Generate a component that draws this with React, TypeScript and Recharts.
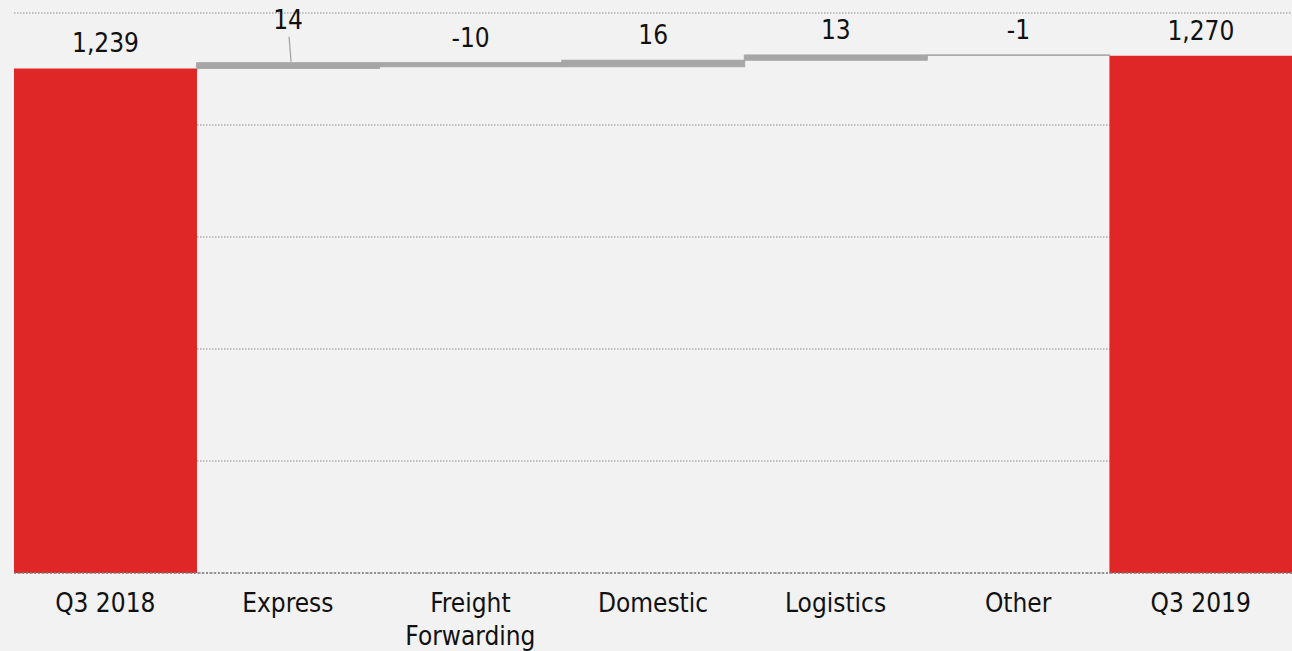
import React from 'react';
import {
  BarChart, Bar, XAxis, YAxis, CartesianGrid, Cell, LabelList, ReferenceLine,
} from 'recharts';

// ── Data ─────────────────────────────────────────────────────────────────────

const categories = ['Q3 2018', 'Express', 'Freight\nForwarding', 'Domestic', 'Logistics', 'Other', 'Q3 2019'];
const values = [1239, 14, -10, 16, 13, -1, 1270];
const isTotal = [true, false, false, false, false, false, true];
const yTicks = [0, 275, 550, 825, 1100, 1375];
// steps whose label sits higher up, tied to the bar with a short leader line
const calloutCategories = ['Express'];

const RED = '#e02727';
const GREY = '#a6a6a6';
const FONT = "'DejaVu Sans Condensed', 'DejaVu Sans', sans-serif";

// running total -> floating [low, high] ranges for the step bars
let running = 0;
const data = categories.map((name, i) => {
  const v = values[i];
  let range: [number, number];
  if (isTotal[i]) {
    range = [0, v];
    running = v;
  } else {
    const next = running + v;
    range = [Math.min(running, next), Math.max(running, next)];
    running = next;
  }
  return { name, value: v, range, total: isTotal[i] };
});

// ── Labels ───────────────────────────────────────────────────────────────────

const ValueLabel = (props: any) => {
  const { x, y, width, height, index } = props;
  const d = data[index];
  if (!d) return null;
  const top = Math.min(y, y + height);
  const cx = x + width / 2;
  const text = d.value.toLocaleString('en-US');
  const style = { fontFamily: FONT, fontSize: 26, fill: '#111' };

  if (calloutCategories.includes(d.name)) {
    return (
      <g>
        <line x1={cx + 1} y1={top - 26} x2={cx + 3} y2={top - 1} stroke={GREY} strokeWidth={1.3} />
        <text x={cx} y={top - 34} textAnchor="middle" style={style}>{text}</text>
      </g>
    );
  }
  return <text x={cx} y={top - 16} textAnchor="middle" style={style}>{text}</text>;
};

const CategoryTick = ({ x, y, payload }: any) => {
  const lines = String(payload.value).split('\n');
  return (
    <text x={x} y={y} textAnchor="middle" style={{ fontFamily: FONT, fontSize: 26, fill: '#111' }}>
      {lines.map((line, i) => (
        <tspan key={i} x={x} dy={i === 0 ? 39 : 33}>{line}</tspan>
      ))}
    </text>
  );
};

// ── Chart ────────────────────────────────────────────────────────────────────

export default function App() {
  return (
    <div style={{ position: 'fixed', left: 0, top: 0, width: 1292, height: 651, background: '#f2f2f2' }}>
      <BarChart
        width={1292}
        height={651}
        data={data}
        barCategoryGap={0}
        margin={{ top: 13, right: 0, bottom: 48, left: 14 }}
      >
        <CartesianGrid vertical={false} stroke="#8c8c8c" strokeDasharray="1.5 1.5" />
        <XAxis
          dataKey="name"
          height={30}
          axisLine={false}
          tickLine={false}
          tickSize={0}
          tickMargin={0}
          interval={0}
          tick={<CategoryTick />}
        />
        <YAxis hide domain={[0, 1375]} ticks={yTicks} />
        <Bar dataKey="range" isAnimationActive={false}>
          {data.map((d, i) => (
            <Cell
              key={`cell-${i}`}
              fill={d.total ? RED : GREY}
              stroke={d.total ? 'none' : GREY}
              strokeWidth={d.total ? 0 : 1}
            />
          ))}
          <LabelList dataKey="value" content={<ValueLabel />} />
        </Bar>
        <ReferenceLine y={0} stroke="#808080" strokeWidth={1.5} strokeDasharray="2 2" />
      </BarChart>
    </div>
  );
}
